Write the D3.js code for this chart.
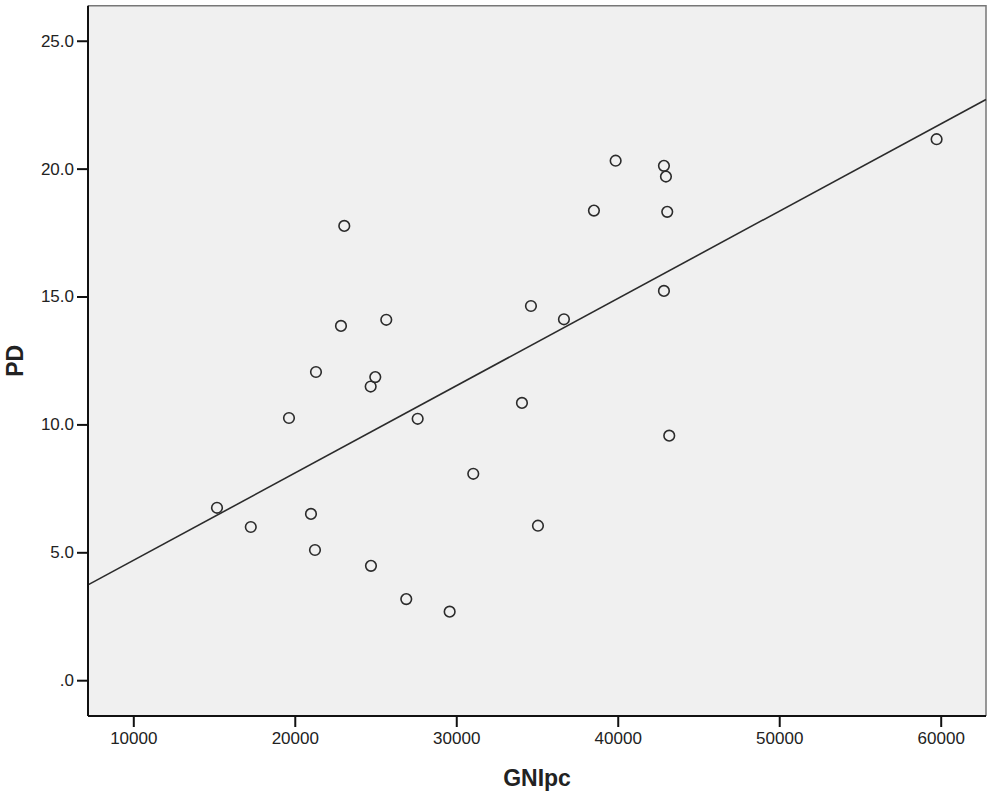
<!DOCTYPE html>
<html>
<head>
<meta charset="utf-8">
<script src="https://cdn.jsdelivr.net/npm/d3@7"></script>
<style>
  html, body { margin: 0; padding: 0; background: #ffffff; }
  svg { display: block; }
  text { font-family: "Liberation Sans", Arial, sans-serif; fill: #222; }
</style>
</head>
<body>
<script>
// GNI per capita (x) and PD (y) for each case
const gnipc = [15183, 17276, 19641, 21003, 21313, 21251, 22861, 23065, 24700, 24985,
               25666, 24718, 26904, 29591, 27610, 31053, 39870, 42861, 42985, 38526,
               43065, 34625, 36668, 42861, 34068, 43189, 35059, 59746];
const pd =     [6.74, 5.99, 10.25, 6.50, 12.05, 5.09, 13.85, 17.76, 11.48, 11.85,
               14.09, 4.47, 3.17, 2.68, 10.22, 8.07, 20.31, 20.11, 19.69, 18.36,
               18.31, 14.63, 14.11, 15.22, 10.84, 9.56, 6.04, 21.15];
const xTicks = [10000, 20000, 30000, 40000, 50000, 60000];
const yTicks = [0, 5, 10, 15, 20, 25];
const xTitle = "GNIpc";
const yTitle = "PD";

const W = 993, H = 795;
const plot = { left: 88, top: 5.7, right: 986, bottom: 716 };

const x = d3.scaleLinear().domain([7195, 62805]).range([plot.left, plot.right]);
const y = d3.scaleLinear().domain([-1.40, 26.37]).range([plot.bottom, plot.top]);

const svg = d3.select("body").append("svg").attr("width", W).attr("height", H);

// plot background
svg.append("rect")
  .attr("x", plot.left).attr("y", plot.top)
  .attr("width", plot.right - plot.left).attr("height", plot.bottom - plot.top)
  .attr("fill", "#f0f0f0");

// top & right frame (lighter)
svg.append("path")
  .attr("d", `M${plot.left},${plot.top}H${plot.right}V${plot.bottom}`)
  .attr("fill", "none").attr("stroke", "#777").attr("stroke-width", 1.5);

// linear fit (least squares)
const n = gnipc.length;
const mx = d3.mean(gnipc), my = d3.mean(pd);
let sxy = 0, sxx = 0;
for (let i = 0; i < n; i++) { sxy += (gnipc[i] - mx) * (pd[i] - my); sxx += (gnipc[i] - mx) ** 2; }
const slope = sxy / sxx, intercept = my - slope * mx;
const [x0, x1] = x.domain();
svg.append("line")
  .attr("x1", x(x0)).attr("y1", y(intercept + slope * x0))
  .attr("x2", x(x1)).attr("y2", y(intercept + slope * x1))
  .attr("stroke", "#2b2b2b").attr("stroke-width", 1.6);

// points
svg.append("g").selectAll("circle")
  .data(d3.range(n))
  .join("circle")
  .attr("cx", i => x(gnipc[i]))
  .attr("cy", i => y(pd[i]))
  .attr("r", 5.3)
  .attr("fill", "none")
  .attr("stroke", "#2b2b2b")
  .attr("stroke-width", 1.6);

// axes
const fmtY = v => v === 0 ? ".0" : d3.format(".1f")(v);
const yAxis = d3.axisLeft(y).tickValues(yTicks).tickFormat(fmtY).tickSize(11).tickPadding(3);
const xAxis = d3.axisBottom(x).tickValues(xTicks).tickFormat(d3.format("d")).tickSize(11).tickPadding(5);

const gy = svg.append("g").attr("transform", `translate(${plot.left},0)`).call(yAxis);
const gx = svg.append("g").attr("transform", `translate(0,${plot.bottom})`).call(xAxis);

[gx, gy].forEach(g => {
  g.select(".domain").attr("stroke", "#111").attr("stroke-width", 2);
  g.selectAll(".tick line").attr("stroke", "#111").attr("stroke-width", 2);
  g.selectAll(".tick text")
    .attr("font-family", "'Liberation Sans', Arial, sans-serif")
    .attr("font-size", 17).attr("fill", "#222");
});
gy.select(".domain").attr("d", `M0,${plot.top}V${plot.bottom}`);
gx.select(".domain").attr("d", `M${plot.left},0H${plot.right}`);

// axis titles
svg.append("text")
  .attr("x", (plot.left + plot.right) / 2).attr("y", 786)
  .attr("text-anchor", "middle")
  .attr("font-size", 23).attr("font-weight", "bold")
  .text(xTitle);

svg.append("text")
  .attr("transform", `translate(22.5,${(plot.top + plot.bottom) / 2}) rotate(-90)`)
  .attr("text-anchor", "middle")
  .attr("font-size", 23).attr("font-weight", "bold")
  .text(yTitle);
</script>
</body>
</html>
